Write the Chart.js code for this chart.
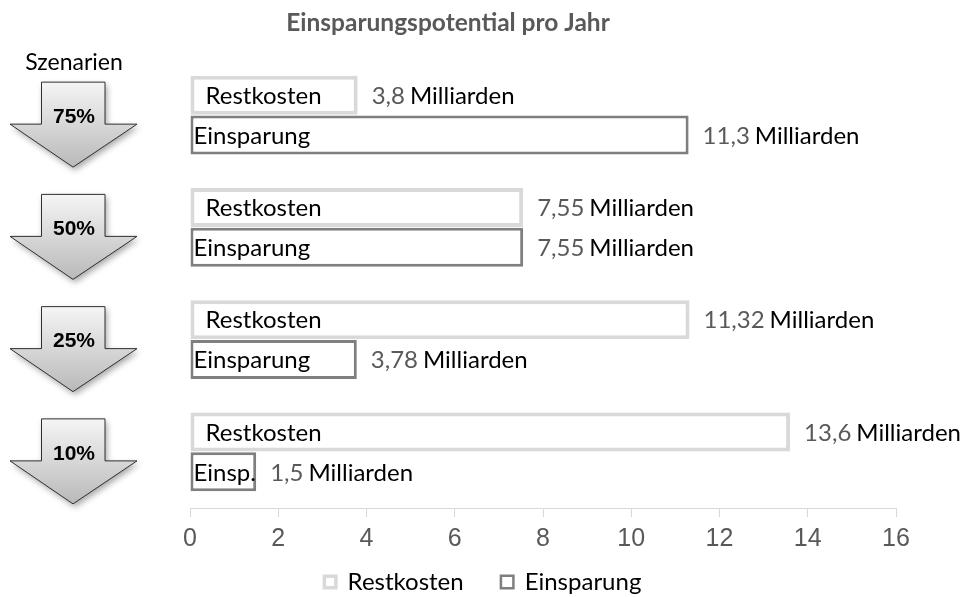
<!DOCTYPE html>
<html>
<head>
<meta charset="utf-8">
<script src="https://cdn.jsdelivr.net/npm/chart.js@4"></script>
<style>
html, body { margin: 0; padding: 0; background: #fff; }
#wrap { width: 961px; height: 597px; }
</style>
</head>
<body>
<div id="wrap"><canvas id="sparChart"></canvas></div>
<script>
var szenarien = ["75%", "50%", "25%", "10%"];
var restkosten = [3.8, 7.55, 11.32, 13.6];
var einsparung = [11.3, 7.55, 3.78, 1.5];
var restWerte = ["3,8", "7,55", "11,32", "13,6"];
var einspWerte = ["11,3", "7,55", "3,78", "1,5"];
var einspNamen = ["Einsparung", "Einsparung", "Einsparung", "Einsp."];
var xTicks = [0, 2, 4, 6, 8, 10, 12, 14, 16];

var textFont = "Lato, 'Open Sans', sans-serif";

// Pfeile links + Beschriftungen, Titel und Legende
var deko = {
    id: "deko",
    afterDraw: function (chart) {
        var ctx = chart.ctx;
        var yScale = chart.scales.y;

        // Titel
        ctx.save();
        ctx.fillStyle = "#595959";
        ctx.font = "bold 24.5px " + textFont;
        ctx.textAlign = "center";
        ctx.textBaseline = "middle";
        ctx.fillText("Einsparungspotential pro Jahr", 448, 23);

        ctx.fillStyle = "#000";
        ctx.font = "23px " + textFont;
        ctx.fillText("Szenarien", 74, 63);
        ctx.restore();

        // Pfeile
        szenarien.forEach(function (s, i) {
            var cy = yScale.getPixelForValue(i);
            var cx = 73;
            var top = cy - 33, neck = cy + 9, tip = cy + 52;
            ctx.save();
            ctx.beginPath();
            ctx.moveTo(cx - 31.5, top);
            ctx.lineTo(cx + 32, top);
            ctx.lineTo(cx + 32, neck);
            ctx.lineTo(cx + 64, neck);
            ctx.lineTo(cx, tip);
            ctx.lineTo(cx - 63, neck);
            ctx.lineTo(cx - 31.5, neck);
            ctx.closePath();
            var grad = ctx.createLinearGradient(0, top, 0, tip);
            grad.addColorStop(0, "#f5f5f5");
            grad.addColorStop(1, "#b9b9b9");
            ctx.fillStyle = grad;
            ctx.shadowColor = "rgba(0,0,0,0.35)";
            ctx.shadowBlur = 6;
            ctx.shadowOffsetX = 2;
            ctx.shadowOffsetY = 3;
            ctx.fill();
            ctx.shadowColor = "transparent";
            ctx.strokeStyle = "#2f2f2f";
            ctx.lineWidth = 1;
            ctx.stroke();
            ctx.fillStyle = "#000";
            ctx.font = "bold 21px 'Liberation Sans', Arial, sans-serif";
            ctx.textAlign = "center";
            ctx.textBaseline = "middle";
            ctx.fillText(s, cx + 1, cy + 2);
            ctx.restore();
        });

        // Balkenbeschriftungen
        var namen = [szenarien.map(function () { return "Restkosten"; }), einspNamen];
        var werte = [restWerte, einspWerte];
        var innen = [15, 3];
        chart.data.datasets.forEach(function (ds, d) {
            var meta = chart.getDatasetMeta(d);
            meta.data.forEach(function (bar, i) {
                ctx.save();
                ctx.font = "24px " + textFont;
                ctx.textBaseline = "middle";
                ctx.textAlign = "left";
                ctx.fillStyle = "#000";
                ctx.fillText(namen[d][i], bar.base + innen[d], bar.y + 1);
                var x = bar.x + 14;
                ctx.fillStyle = "#595959";
                ctx.fillText(werte[d][i], x, bar.y + 1);
                x += ctx.measureText(werte[d][i]).width + 5;
                ctx.fillStyle = "#000";
                ctx.fillText("Milliarden", x, bar.y + 1);
                ctx.restore();
            });
        });

        // Legende
        ctx.save();
        ctx.font = "24px " + textFont;
        ctx.textBaseline = "middle";
        ctx.textAlign = "left";
        var ly = 582, box = 15, gapText = 10, gapItem = 36;
        var sets = chart.data.datasets;
        var total = 0;
        sets.forEach(function (ds, d) {
            total += box + gapText + ctx.measureText(ds.label).width;
            if (d < sets.length - 1) total += gapItem;
        });
        var lx = 482 - total / 2;
        sets.forEach(function (ds) {
            var bw = ds.borderWidth - 0.5;
            ctx.fillStyle = "#fff";
            ctx.fillRect(lx, ly - box / 2, box, box);
            ctx.strokeStyle = ds.borderColor;
            ctx.lineWidth = bw;
            ctx.strokeRect(lx + bw / 2, ly - box / 2 + bw / 2, box - bw, box - bw);
            ctx.fillStyle = "#000";
            ctx.fillText(ds.label, lx + box + gapText, ly);
            lx += box + gapText + ctx.measureText(ds.label).width + gapItem;
        });
        ctx.restore();
    }
};

new Chart(document.getElementById("sparChart").getContext("2d"), {
    type: "bar",
    data: {
        labels: szenarien,
        datasets: [{
            label: "Restkosten",
            data: restkosten,
            backgroundColor: "#ffffff",
            borderColor: "#d9d9d9",
            borderWidth: 4,
            borderSkipped: false
        }, {
            label: "Einsparung",
            data: einsparung,
            backgroundColor: "#ffffff",
            borderColor: "#7f7f7f",
            borderWidth: 3,
            borderSkipped: false
        }]
    },
    options: {
        indexAxis: "y",
        responsive: true,
        maintainAspectRatio: false,
        animation: false,
        datasets: { bar: { categoryPercentage: 0.71, barPercentage: 0.98 } },
        layout: { padding: { top: 59, left: 190, right: 65, bottom: 36 } },
        scales: {
            x: {
                min: 0,
                max: 16,
                afterBuildTicks: function (scale) {
                    scale.ticks = xTicks.map(function (v) { return { value: v }; });
                },
                ticks: {
                    color: "#595959",
                    font: { family: "'Liberation Sans', Arial, sans-serif", size: 25 },
                    padding: 7,
                    maxRotation: 0
                },
                grid: { drawOnChartArea: false, tickLength: 9, color: "#d9d9d9" },
                border: { color: "#d9d9d9" }
            },
            y: { display: false }
        },
        plugins: {
            legend: { display: false },
            title: { display: false },
            tooltip: { enabled: false }
        }
    },
    plugins: [deko]
});
</script>
</body>
</html>
